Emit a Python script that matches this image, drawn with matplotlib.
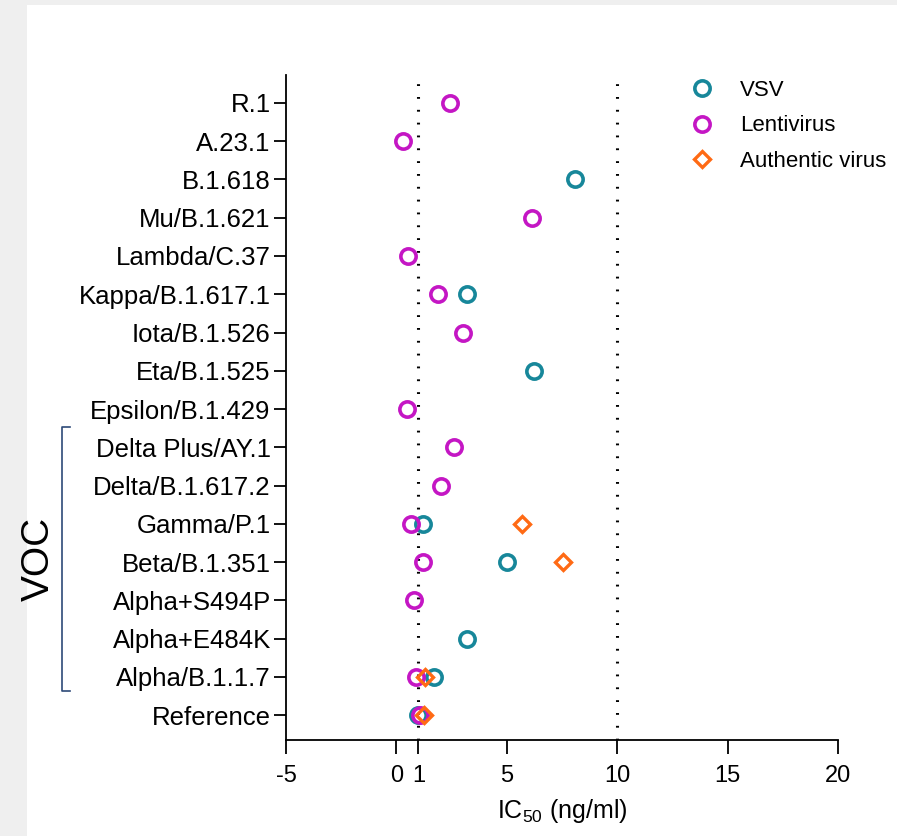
import matplotlib.pyplot as plt
from matplotlib.patches import Rectangle
from matplotlib.lines import Line2D

plt.rcParams['font.family'] = ['Liberation Sans', 'DejaVu Sans']
plt.rcParams['mathtext.default'] = 'regular'

# categories, bottom to top
variants = ['Reference', 'Alpha/B.1.1.7', 'Alpha+E484K', 'Alpha+S494P',
            'Beta/B.1.351', 'Gamma/P.1', 'Delta/B.1.617.2', 'Delta Plus/AY.1',
            'Epsilon/B.1.429', 'Eta/B.1.525', 'Iota/B.1.526', 'Kappa/B.1.617.1',
            'Lambda/C.37', 'Mu/B.1.621', 'B.1.618', 'A.23.1', 'R.1']

# IC50 values (ng/ml), None = not tested
vsv = [0.98, 1.7, 3.2, None, 5.0, 1.2, None, None,
       None, 6.23, None, 3.2, None, None, 8.09, None, None]
lenti = [1.07, 0.89, None, 0.8, 1.2, 0.66, 2.02, 2.6,
         0.48, None, 3.02, 1.88, 0.53, 6.14, None, 0.3, 2.43]
authentic = [1.25, 1.3, None, None, 7.54, 5.69, None, None,
             None, None, None, None, None, None, None, None, None]

xticks = [-5, 0, 1, 5, 10, 15, 20]
ref_lines = [1, 10]

colors = {'VSV': '#17879a', 'Lentivirus': '#c416c4', 'Authentic virus': '#ff6a14'}

fig = plt.figure(figsize=(8.97, 8.36), dpi=100)
fig.patch.set_facecolor('#efefef')
fig.patches.append(Rectangle((27 / 897, 0), 1, 1 - 5 / 836, transform=fig.transFigure,
                             facecolor='white', edgecolor='none', zorder=-10))

ax = fig.add_axes([286 / 897, 1 - 740 / 836, (838 - 286) / 897, (740 - 75) / 836])
ax.set_facecolor('none')
ax.set_zorder(2)


def pts(values):
    ys = [i for i, v in enumerate(values) if v is not None]
    xs = [v for v in values if v is not None]
    return xs, ys


for xv in ref_lines:
    ax.axvline(xv, color='black', lw=2.2, dashes=(0.6, 3.6), zorder=1)

x, y = pts(vsv)
ax.plot(x, y, 'o', ms=11, mfc='none', mec=colors['VSV'], mew=2.6, label='VSV', zorder=3)
x, y = pts(lenti)
ax.plot(x, y, 'o', ms=11, mfc='none', mec=colors['Lentivirus'], mew=2.6, label='Lentivirus', zorder=4)
x, y = pts(authentic)
ax.plot(x, y, 'D', ms=8, mfc='none', mec=colors['Authentic virus'], mew=2.4,
        label='Authentic virus', zorder=5)

ax.set_xlim(-5, 20)
ax.set_ylim(-0.65, 16.73)
ax.set_yticks(range(len(variants)))
ax.set_yticklabels(variants, fontsize=18.5)
ax.set_xticks(xticks)
ax.set_xticklabels([str(t) for t in xticks], fontsize=17)
ax.tick_params(axis='x', length=10, width=1.3, pad=8)
ax.tick_params(axis='y', length=9, width=1.3, pad=2)
for s in ['top', 'right']:
    ax.spines[s].set_visible(False)
for s in ['left', 'bottom']:
    ax.spines[s].set_linewidth(1.3)
ax.set_xlabel('IC$_{50}$ (ng/ml)', fontsize=18, labelpad=7)

leg = ax.legend(loc='upper left', bbox_to_anchor=(0.694, 1.023), frameon=False,
                fontsize=16, handletextpad=1.1, labelspacing=0.66, handlelength=1.2)

# VOC bracket
bx, by0, by1 = 62 / 897, 1 - 427 / 836, 1 - 691 / 836
tick = 8 / 897
bc = '#2e4a78'
fig.add_artist(Line2D([bx + tick, bx, bx, bx + tick], [by0, by0, by1, by1],
                      color=bc, lw=1.2, transform=fig.transFigure))
fig.text(39 / 897, 1 - 559 / 836, 'VOC', rotation=90, fontsize=28,
         ha='center', va='center')

fig.savefig('out.png', dpi=100, facecolor=fig.get_facecolor())
